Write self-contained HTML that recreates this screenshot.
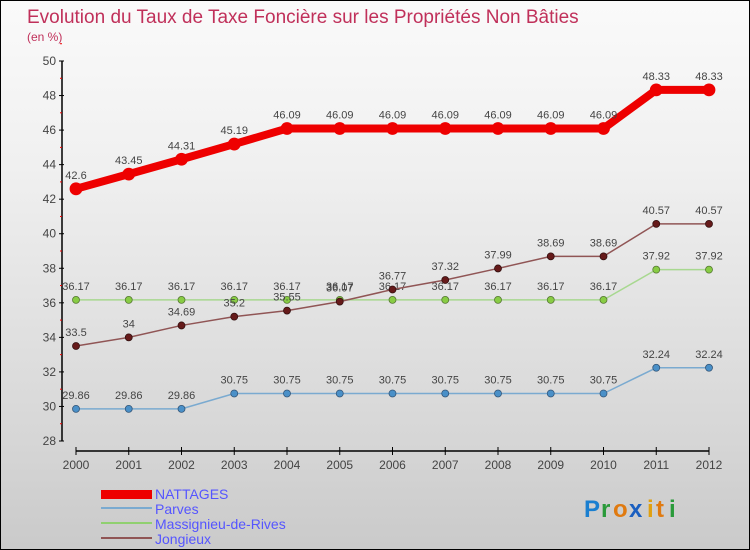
<!DOCTYPE html>
<html><head><meta charset="utf-8"><style>
body{margin:0}
#c{width:748px;height:548px;border:1px solid #000;background:linear-gradient(#fafafa,#f0f0f0 30%,#d6d6d6 80%,#cacaca);position:relative;font-family:"Liberation Sans",sans-serif;overflow:hidden}
</style></head><body>
<div id="c">
<svg id="s" width="748" height="548">
<text x="26" y="22" font-size="19" fill="#c0305a">Evolution du Taux de Taxe Foncière sur les Propriétés Non Bâties</text>
<text x="26" y="40" font-size="12" fill="#c0305a">(en %)</text>
<g id="g"></g>
<g>
<rect x="100" y="489" width="51" height="9" fill="#e00"/>
<text x="154" y="498" font-size="14" fill="#5555ff">NATTAGES</text>
<line x1="100" y1="507" x2="151" y2="507" stroke="#7aaad0" stroke-width="2"/>
<text x="154" y="513" font-size="14" fill="#5555ff">Parves</text>
<line x1="100" y1="522" x2="151" y2="522" stroke="#90d070" stroke-width="2"/>
<text x="154" y="528" font-size="14" fill="#5555ff">Massignieu-de-Rives</text>
<line x1="100" y1="537" x2="151" y2="537" stroke="#905555" stroke-width="2"/>
<text x="154" y="543" font-size="14" fill="#5555ff">Jongieux</text>
</g>
<g font-size="24" font-weight="bold">
<text x="583" y="516" fill="#1a7fd0">P</text><text x="600" y="516" fill="#2a9a3a">r</text><text x="612" y="516" fill="#e07a10">o</text><text x="628" y="516" fill="#1a5fc0">x</text><text x="646" y="516" fill="#e0a010">i</text><text x="655" y="516" fill="#e07a10">t</text><text x="668" y="516" fill="#2a9a3a">i</text>
</g>
</svg>
</div>
<script>
const years=[2000,2001,2002,2003,2004,2005,2006,2007,2008,2009,2010,2011,2012];
const nattages=[42.6,43.45,44.31,45.19,46.09,46.09,46.09,46.09,46.09,46.09,46.09,48.33,48.33];
const parves=[29.86,29.86,29.86,30.75,30.75,30.75,30.75,30.75,30.75,30.75,30.75,32.24,32.24];
const massignieu=[36.17,36.17,36.17,36.17,36.17,36.17,36.17,36.17,36.17,36.17,36.17,37.92,37.92];
const jongieux=[33.5,34,34.69,35.2,35.55,36.07,36.77,37.32,37.99,38.69,38.69,40.57,40.57];
const yTicks=[28,30,32,34,36,38,40,42,44,46,48,50];
const yMin=28,yMax=50;
const NS="http://www.w3.org/2000/svg";
const g=document.getElementById('g');
function X(i){return 75+i*(708-75)/(years.length-1);}
function Y(v){return 440-(v-yMin)*(440-60)/(yMax-yMin);}
function mk(t,a,p){const e=document.createElementNS(NS,t);for(const k in a)e.setAttribute(k,a[k]);(p||g).appendChild(e);return e;}
// axes
let ya=mk('line',{x1:61,y1:60,x2:61,y2:440,stroke:'#000','stroke-width':1.5});


yTicks.forEach(v=>{
 mk('line',{x1:58,y1:Y(v),x2:63,y2:Y(v),stroke:'#000'});
 mk('line',{x1:59,y1:Y(v+1),x2:61,y2:Y(v+1),stroke:'#e00'});
 const t=mk('text',{x:55,y:Y(v)+4,'font-size':12,fill:'#444','text-anchor':'end'});t.textContent=v;
 
 
});
let xa=mk('line',{x1:75,y1:450,x2:708,y2:450,stroke:'#000','stroke-width':1.5});


years.forEach((y,i)=>{
 mk('line',{x1:X(i),y1:446,x2:X(i),y2:454,stroke:'#000'});
 const t=mk('text',{x:X(i),y:468,'font-size':12,fill:'#444','text-anchor':'middle'});t.textContent=y;
 
 
});
function series(name,vals,color,w,r,dot,dotStroke){
 const sg=mk('g',{});
 
 
 mk('polyline',{points:vals.map((v,i)=>X(i)+','+Y(v)).join(' '),fill:'none',stroke:color,'stroke-width':w,'stroke-linejoin':'round'},sg);
 vals.forEach((v,i)=>{
  const c=mk('circle',{cx:X(i),cy:Y(v),r:r,fill:dot,stroke:dotStroke,'stroke-width':0.8},sg);
  
  
  const t=mk('text',{x:X(i),y:Y(v)-10,'font-size':11,fill:'#444','text-anchor':'middle'},sg);t.textContent=v;
 });
}
series('massignieu',massignieu,'#a8d890',1.5,3.5,'#88cc44','#557733');
series('parves',parves,'#7aaad0',1.5,3.5,'#4a90c8','#335577');
series('jongieux',jongieux,'#905555',1.5,3.5,'#661a1a','#331010');
series('nattages',nattages,'#ee0000',8,6,'#ee0000','#ee0000');
</script>
</body></html>
